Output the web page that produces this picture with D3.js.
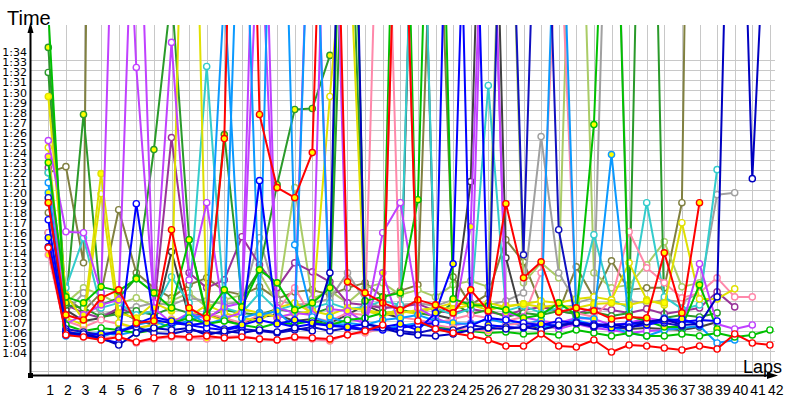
<!DOCTYPE html>
<html><head><meta charset="utf-8">
<script src="https://cdn.jsdelivr.net/npm/d3@7"></script>
<style>body{margin:0;background:#fff}svg{display:block}</style>
</head><body><svg id="c" width="800" height="400"></svg>
<script>
// ---------- data ----------
const laps = [1,2,3,4,5,6,7,8,9,10,11,12,13,14,15,16,17,18,19,20,21,22,23,24,25,26,27,28,29,30,31,32,33,34,35,36,37,38,39,40,41,42];
const yTickValues = [64,65,66,67,68,69,70,71,72,73,74,75,76,77,78,79,80,81,82,83,84,85,86,87,88,89,90,91,92,93,94];
const yTickLabels = ["1:04","1:05","1:06","1:07","1:08","1:09","1:10","1:11","1:12","1:13","1:14","1:15","1:16","1:17","1:18","1:19","1:20","1:21","1:22","1:23","1:24","1:25","1:26","1:27","1:28","1:29","1:30","1:31","1:32","1:33","1:34"];
const gridValues = [62,63,64,65,66,67,68,69,70,71,72,73,74,75,76,77,78,79,80,81,82,83,84,85,86,87,88,89,90,91,92,93];

// lap times in seconds (values above ~1:35 run off the top)
const oliveW1 = [82.0,82.6,73.0,240];
const olive2  = [78.0,69.5,68.2,70.0,78.3,72.0,70.5,69.5,70.8,71.5,70.2,69.8,70.6,69.4,70.1,70.3,69.8,70.5,71.0,69.6,70.2,70.8,120,71.6,68.8,69.9,75.3,73.1,68.8,68.1,72.6,69.5,73.2,70.3,70.5,70.5,79.0,200];
const lightGreenW = [79.5,69.0,70.5,69.8,68.9,69.5,68.7,69.2,70.0,68.6,69.3,69.8,72.0,69.0,80.5,69.4,70.2,69.0,70.5,71.0,69.8,70.3,69.6,70.8,71.2,70.6,130,71.0,73.0,71.5,130,72.0,70.5,70.8,72.8,75.1,70.6,71.0];
const grayW   = [79.0,68.0,70.0,67.8,68.3,68.6,69.0,68.8,69.5,69.2,68.9,69.1,75.5,69.3,68.8,69.0,69.4,72.0,69.2,68.5,68.8,69.0,68.7,69.3,69.0,68.8,69.2,70.0,85.6,72.0,69.0,69.5,130,69.2,69.0,69.3,69.1,70.0,79.8,80.0];
const darkGrayW = [76.0,68.3,67.2,67.5,68.2,67.3,66.8,74.1,67.6,67.9,67.3,67.0,67.6,67.8,67.2,67.4,67.0,67.8,68.8,68.0,67.5,130,67.8,67.4,81.1,140,73.5,66.8,66.5,66.6,66.9,66.8,66.6,66.4,66.5,66.4,66.3,66.6,67.1];
const purpleW = [82.5,68.8,68.0,67.5,68.5,67.8,68.2,85.5,72.0,70.5,71.3,75.6,72.8,70.5,73.0,72.1,71.1,69.0,68.8,68.5,68.6,68.9,68.2,68.0,68.4,68.1,67.8,68.3,68.6,68.2,67.9,68.5,68.3,68.0,68.4,67.9,68.2,68.5,70.1,68.6];
const forestW = [92.0,68.8,68.5,67.6,67.9,68.2,67.8,68.5,68.0,67.6,68.3,68.0,67.8,68.4,68.1,67.9,68.5,120,68.2,67.9,68.3,68.0,67.7,69.0,67.9,68.3,67.6,68.0,67.8,68.2,67.9,68.1,67.7,68.0,150,67.5,67.8,67.6,68.0];
const forestY = [94.5,69.0,87.8,68.8,69.5,71.5,84.3,100,75.3,67.5,85.8,69.5,72.3,80.8,88.3,88.4,93.7];
const cyanW   = [82.0,70.5,75.5,68.5,69.0,67.8,68.2,71.6,69.0,92.6,68.5,68.0,70.0,68.3,68.8,68.5,69.0,68.4,68.6,69.2,68.8,130,68.5,67.8,68.4,90.7,68.2,68.7,68.0,68.5,68.8,75.8,69.3,68.5,79.0,69.6,68.4,68.8,82.3];
const pinkW   = [76.0,67.2,66.6,67.3,66.9,66.5,66.8,67.4,67.0,68.0,67.5,67.0,67.8,68.2,70.5,67.5,67.2,68.0,67.8,130,67.6,67.3,67.0,67.4,67.8,67.5,67.2,67.6,72.0,110,68.0,67.6,69.3,76.1,72.5,71.0,69.5,70.0,71.5,69.6,69.6];
const yellowW = [84.5,67.5,66.8,79.9,67.0,66.5,66.8,67.3,67.6,68.8,68.0,67.5,67.2,68.5,69.0,68.0,89.6,110,68.2,67.8,68.0,68.3,68.5,69.0,68.8,69.0,68.6,68.9,69.2,69.0,69.4,69.6,69.3,73.0,69.3,68.8,77.0,69.4,69.4,70.4];
const yellowY = [89.6,69.8,67.3,81.9,68.0,67.5,69.0,68.2,140,67.8,67.2,68.4,68.0,67.6,67.9,68.2,67.8,68.5,68.3,68.0,68.2,67.9,68.6,68.4,68.8,68.3,68.7,68.9,68.6,68.8,68.5,68.9,69.0,68.8,69.2,69.0];
const magentaW = [85.2,76.1,76.0,70.0,130,92.5,69.0,95.0,71.3,79.0,67.5,68.0,110,68.5,68.0,67.8,130,67.5,67.0,76.0,79.0,68.5,67.5,66.8,67.0,125,67.5,66.5,67.0,66.4,66.9,66.5,66.3,66.0,66.2,66.3,66.6,72.9,66.9,66.4,66.8];
const magentaY = [83.6,66.9,67.8,68.8,69.3,120,68.5,67.0,68.0,67.4,68.6,69.0,130,67.5,68.0,120,68.4,68.2,67.0,72.0,66.5,67.0,67.2,67.0,76.6,125,68.0,67.6,67.2,67.0,67.5,67.4,66.8,67.0,67.5,67.2,67.0];
const dodgerW = [81.0,66.2,65.9,66.0,65.8,66.2,66.5,66.8,67.2,68.0,100,67.5,68.0,140,74.8,67.6,67.0,66.8,66.2,66.4,66.7,67.0,66.5,66.0,66.3,66.5,66.8,67.2,66.5,66.9,67.3,66.8,66.6,66.0,65.7,66.3,66.5,66.7,65.0,65.3];
const dodgerY = [80.0,65.7,65.9,65.6,66.2,66.8,67.2,66.5,68.0,66.9,67.4,120,67.8,68.2,66.5,120,67.6,67.0,66.8,67.3,67.5,67.8,67.2,67.0,66.9,67.4,67.0,66.8,67.3,120,67.6,67.4,83.8,67.0,66.8,67.5,67.2,66.9];
const greenY  = [83.0,69.6,69.0,70.6,70.2,71.4,70.0,68.5,75.3,67.8,70.3,68.6,72.3,71.0,68.3,69.0,70.5,140,69.2,69.6,70.0,79.3,140,69.4,68.8,68.7,68.3,67.5,67.8,69.0,67.8,86.8,130,67.7,67.2,66.6,66.6,70.8,66.4];
const greenW  = [98.0,66.8,66.2,66.5,66.3,66.0,66.3,67.0,67.5,66.9,67.2,66.8,66.5,67.0,66.9,67.2,66.8,67.3,67.5,68.0,140,67.0,66.6,66.4,66.2,66.0,66.1,65.9,66.0,65.8,66.3,66.0,65.7,66.0,65.7,65.7,65.9,65.7,66.0,65.6,65.8,66.3];
const pinkY   = [73.8,66.1,66.3,65.5,65.6,65.0,65.4,65.6,65.5,65.4,65.6,65.7,65.4,65.3,65.5,65.4,65.2,65.9,66.0,66.5,125,67.0,66.8,66.5,66.3,66.2,66.8,67.0,66.9,67.2,67.0,66.8];
const navy2W  = [79.5,66.4,66.1,65.8,66.2,66.6,66.0,65.9,66.3,66.1,65.9,66.4,66.2,66.0,66.3,66.6,66.2,66.5,66.3,66.7,66.2,66.0,66.4,66.3,66.8,66.5,130,73.8,130,76.3,67.0,66.6,66.8,66.9,67.2,67.0,66.7];
const blueW   = [77.3,65.8,65.8,65.4,65.0,78.9,67.3,67.0,66.8,66.5,66.3,66.6,81.2,67.0,66.6,66.9,66.8,66.6,66.4,66.3,66.5,66.8,67.0,140,66.7,67.5,67.3,67.0,66.8,67.2,67.0,66.9,66.8,66.9,67.0,67.4,67.1,67.3,67.2];
const blueY   = [75.5,66.2,65.7,65.9,66.0,66.9,67.6,67.2,66.8,67.0,66.4,66.8,67.3,66.9,67.3,67.0,66.7,66.6,66.9,66.6,66.9,66.3,68.0,72.9,130,66.8,66.6,66.5,66.9,66.7,67.1,66.8,66.5,66.6,66.8,67.2,67.4,66.8];
const navyW   = [74.6,66.0,65.9,65.5,64.8,66.0,66.5,66.3,66.5,65.8,66.2,66.0,66.3,66.1,66.5,66.2,72.0,150,66.9,66.5,66.0,65.8,65.7,65.9,66.3,66.5,66.4,66.6,66.3,66.8,67.0,66.7,66.9,66.5,67.1,67.4,66.8,66.9,69.6,140,81.4,118];
const redY    = [79.0,67.8,67.3,69.5,70.3,67.0,67.2,76.3,68.5,67.5,85.4,159,87.8,80.5,79.5,84.0,139,71.1,70.0,69.0,68.3,69.3,68.8,68.0,70.3,68.2,78.9,71.5,73.1,68.1,68.5,68.2,67.4,67.6,67.5,74.0,68.0,79.0];
const redW    = [74.5,65.8,65.6,65.3,65.6,65.1,65.5,65.7,65.6,65.7,65.5,65.6,65.4,65.3,65.6,65.5,65.4,65.8,66.2,66.8,125,67.2,66.4,66.0,65.7,65.3,64.7,64.7,65.9,64.7,64.6,65.3,64.1,64.8,64.7,64.5,64.3,64.7,64.4,65.9,65.0,64.8];

const seriesList  = [oliveW1, olive2, lightGreenW, grayW, darkGrayW, purpleW, forestW, forestY, cyanW, pinkW, yellowW, yellowY, magentaW, magentaY, dodgerW, dodgerY, greenY, greenW, pinkY, navy2W, blueW, blueY, navyW, redY, redW];
const seriesColor = ["#808040","#808040","#aacc66","#a0a0a0","#404040","#993399","#2a9a2a","#2a9a2a","#33cccc","#ff88aa","#e0e000","#e0e000","#c040ff","#c040ff","#0a99ff","#0a99ff","#00c000","#00c000","#ff88aa","#1010c0","#0000ff","#0000ff","#0000c0","#ff0000","#ff0000"];
const seriesFill  = ["#fff","#fff","#fff","#fff","#fff","#fff","#fff","#ffff00","#fff","#fff","#fff","#ffff00","#fff","#ffff00","#fff","#ffff00","#ffff00","#fff","#ffff00","#fff","#fff","#ffff00","#fff","#ffff00","#fff"];

// ---------- drawing ----------
const svg = d3.select("#c");
const x = d3.scaleLinear().domain([1,42]).range([48.3,769.9]);
const y = d3.scaleLinear().domain([64,94]).range([353,52.4]);

const grid = svg.append("g").attr("stroke","#c8c8c8").attr("stroke-width",1);
grid.selectAll("line.h").data(gridValues).join("line").attr("class","h")
  .attr("x1",30).attr("x2",775)
  .attr("y1",d=>Math.round(y(d)-2.3)+0.5).attr("y2",d=>Math.round(y(d)-2.3)+0.5);
grid.selectAll("line.v").data(laps).join("line").attr("class","v")
  .attr("x1",d=>Math.round(x(d))+0.5).attr("x2",d=>Math.round(x(d))+0.5)
  .attr("y1",25).attr("y2",375);

svg.append("clipPath").attr("id","clip").append("rect")
  .attr("x",30).attr("y",25).attr("width",765).attr("height",350);

const plot = svg.append("g").attr("clip-path","url(#clip)");
const line = d3.line().defined(d=>d.v!=null).x(d=>x(d.lap)).y(d=>y(d.v));

seriesList.forEach((vals,i)=>{
  const pts = laps.map((l,j)=>({lap:l, v: vals[j]==null?null:vals[j]}));
  const g = plot.append("g");
  g.append("path").datum(pts).attr("d",line)
    .attr("fill","none").attr("stroke",seriesColor[i]).attr("stroke-width",2)
    .attr("stroke-linejoin","round");
  g.selectAll("circle").data(pts.filter(d=>d.v!=null && d.v<97)).join("circle")
    .attr("cx",d=>x(d.lap)).attr("cy",d=>y(d.v)).attr("r",3.1)
    .attr("fill",seriesFill[i]).attr("stroke",seriesColor[i]).attr("stroke-width",1.4);
});

// axes
const yAxis = d3.axisLeft(y).tickValues(yTickValues).tickSize(0).tickPadding(2)
  .tickFormat((d,i)=>yTickLabels[i]);
const ya = svg.append("g").attr("transform","translate(29,0)").call(yAxis);
ya.select(".domain").remove();
ya.selectAll("text").attr("font-family","DejaVu Sans").attr("font-size",11).attr("fill","#000");

const xAxis = d3.axisBottom(x).tickValues(laps).tickSize(0).tickPadding(10);
const xa = svg.append("g").attr("transform","translate(0,375)").call(xAxis);
xa.select(".domain").remove();
xa.selectAll("text").attr("font-family","Liberation Sans").attr("font-size",14)
  .attr("fill","#000").attr("text-anchor","start").attr("dx",-2.5);

svg.append("line").attr("x1",30.5).attr("x2",30.5).attr("y1",30).attr("y2",376).attr("stroke","#000").attr("stroke-width",2);
svg.append("line").attr("x1",30).attr("x2",770).attr("y1",375.5).attr("y2",375.5).attr("stroke","#000").attr("stroke-width",2);
svg.append("path").attr("d","M30.5,22 L27.5,33 L33.5,33 Z").attr("fill","#000");
svg.append("path").attr("d","M778,375.5 L767,372 L767,379 Z").attr("fill","#000");
svg.append("rect").attr("x",28).attr("y",373).attr("width",5).attr("height",5).attr("fill","#000");

svg.append("text").attr("x",7).attr("y",25).text("Time")
  .attr("font-family","Liberation Sans").attr("font-size",20).attr("fill","#000");
svg.append("text").attr("x",743).attr("y",372.5).text("Laps")
  .attr("font-family","Liberation Sans").attr("font-size",18).attr("fill","#000");
</script></body></html>
